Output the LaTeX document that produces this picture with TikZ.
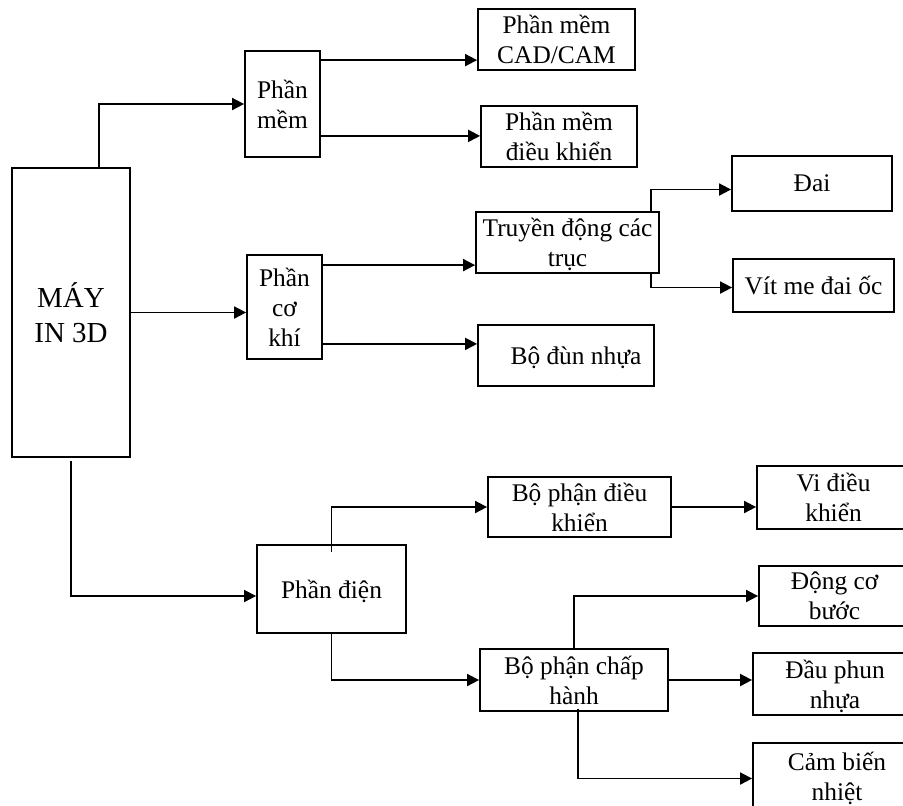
\documentclass[tikz,border=0pt]{standalone}
\usepackage{fontspec}
\setmainfont{Liberation Serif}
\usetikzlibrary{arrows.meta}

\begin{document}
\begin{tikzpicture}[
        x=0.5pt, y=-0.5pt,
        every node/.style={align=center, font=\fontsize{12.7}{15}\selectfont},
        box/.style={rectangle, draw, line width=0.9pt, inner sep=0pt, text depth=0pt},
        mainbox/.style={box, font=\fontsize{14.5}{17.5}\selectfont},
        arrow/.style={line width=0.9pt, -{Triangle[length=6pt, width=6pt]}}
    ]
    \clip (0,0) rectangle (903,805);

    % Nodes
    \node (may) [mainbox, minimum width=59pt, minimum height=144.5pt] at (71,312.5) {MÁY\\IN 3D};

    \node (mem) [box, minimum width=37.5pt, minimum height=53pt] at (282.5,104) {Phần\\mềm};
    \node (cokhi) [box, minimum width=37.5pt, minimum height=52pt] at (284.5,307) {Phần\\cơ\\khí};
    \node (dien) [box, minimum width=74.5pt, minimum height=44pt] at (331.5,589) {Phần điện};

    \node (cadcam) [box, minimum width=78.5pt, minimum height=30.5pt] at (556.5,39.5) {Phần mềm\\CAD/CAM};
    \node (memdk) [box, minimum width=78pt, minimum height=30.5pt] at (559,136.5) {Phần mềm\\điều khiển};
    \node (truyen) [box, minimum width=91.5pt, minimum height=30.5pt] at (567.5,242.5) {Truyền động các\\trục};
    \node (dun) [box, minimum width=88pt, minimum height=30.5pt] at (566,355.5) {\hspace*{10pt}Bộ đùn nhựa};

    \node (dai) [box, minimum width=80pt, minimum height=27.5pt] at (812,183.5) {Đai};
    \node (vitme) [box, minimum width=80.5pt, minimum height=26.5pt] at (813.5,285.5) {Vít me đai ốc};

    \node (bpdk) [box, minimum width=91.5pt, minimum height=30pt] at (579.5,507) {Bộ phận điều\\khiển};
    \node (bpch) [box, minimum width=94pt, minimum height=31pt] at (574,680) {Bộ phận chấp\\hành};

    \node (vidk) [box, minimum width=76.5pt, minimum height=31.5pt] at (833.5,497.5) {Vi điều\\khiển};
    \node (dongco) [box, minimum width=75.5pt, minimum height=30pt] at (834.5,596) {Động cơ\\bước};
    \node (dauphun) [box, minimum width=82pt, minimum height=31pt] at (835,684) {Đầu phun\\nhựa};
    \node (cambien) [box, minimum width=84pt, minimum height=33.5pt] at (837,776.5) {Cảm biến\\nhiệt};

    % Arrows
    \draw [arrow] ([xshift=14pt]may.north) |- (mem.west);
    \draw [arrow] (may.east) -- (may.east -| cokhi.west);
    \draw [arrow] ([yshift=-1.5pt]may.south) |- ([yshift=-3.5pt]dien.west);

    \coordinate (mem1) at ([yshift=-5pt]mem.north east);
    \coordinate (mem2) at ([yshift=11pt]mem.south east);
    \draw [arrow] (mem1) -- (mem1 -| cadcam.west);
    \draw [arrow] (mem2) -- (mem2 -| memdk.west);

    \coordinate (cokhi1) at ([yshift=-5.5pt]cokhi.north east);
    \coordinate (cokhi2) at ([yshift=8pt]cokhi.south east);
    \draw [arrow] (cokhi1) -- (cokhi1 -| truyen.west);
    \draw [arrow] (cokhi2) -- (cokhi2 -| dun.west);

    \draw [arrow] ([xshift=-4.5pt]truyen.north east) |- ([yshift=-3pt]dai.west);
    \draw [arrow] ([xshift=-4.5pt]truyen.south east) |- ([yshift=-1pt]vitme.west);

    \draw [arrow] ([yshift=-4pt]dien.north) |- (bpdk.west);
    \draw [arrow] (dien.south) |- (bpch.west);

    \draw [arrow] (bpdk.east) -- (bpdk.east -| vidk.west);
    \draw [arrow] (bpch.north) |- (dongco.west);
    \draw [arrow] (bpch.east) -- (bpch.east -| dauphun.west);
    \draw [arrow] ([xshift=2pt,yshift=1.5pt]bpch.south) |- ([yshift=-1pt]cambien.west);

    \end{tikzpicture}
\end{document}
